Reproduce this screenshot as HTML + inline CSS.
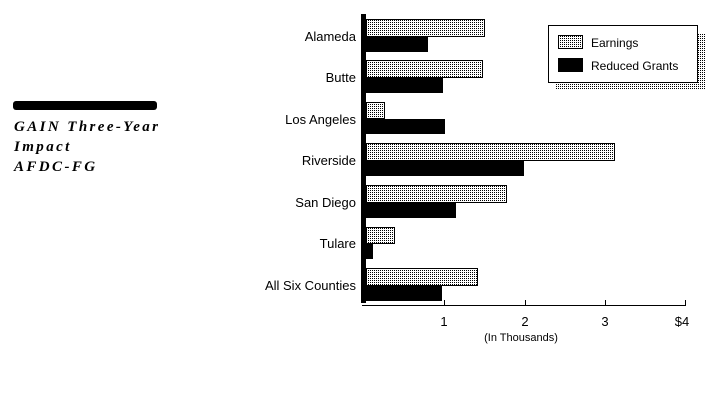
<!DOCTYPE html>
<html><head><style>
html,body{margin:0;padding:0;background:#fff;width:716px;height:412px;overflow:hidden}
</style></head><body>
<svg width="716" height="412" xmlns="http://www.w3.org/2000/svg" style="display:block">
<defs>
<pattern id="dots" width="2" height="2" patternUnits="userSpaceOnUse">
<rect width="2" height="2" fill="#fff"/><rect width="1" height="1" fill="#000"/>
</pattern>
</defs>
<rect x="13" y="101" width="144" height="9" rx="3" fill="#000"/>
<g font-family="Liberation Serif, serif" font-weight="bold" font-style="italic" font-size="15" letter-spacing="2.4" fill="#000">
<text x="14" y="131">GAIN Three-Year</text>
<text x="14" y="151">Impact</text>
<text x="14" y="171">AFDC-FG</text>
</g>
<g font-family="Liberation Sans, sans-serif" font-size="13" fill="#000" text-anchor="end">
<text x="356" y="41">Alameda</text>
<text x="356" y="82">Butte</text>
<text x="356" y="124">Los Angeles</text>
<text x="356" y="165">Riverside</text>
<text x="356" y="207">San Diego</text>
<text x="356" y="248">Tulare</text>
<text x="356" y="290">All Six Counties</text>
</g>
<g stroke="#000" stroke-width="1">
<rect x="366.5" y="19.5" width="118" height="17" fill="url(#dots)"/>
<rect x="366.5" y="60.5" width="116" height="17" fill="url(#dots)"/>
<rect x="366.5" y="102.5" width="18" height="16" fill="url(#dots)"/>
<rect x="366.5" y="143.5" width="248" height="17" fill="url(#dots)"/>
<rect x="366.5" y="185.5" width="140" height="17" fill="url(#dots)"/>
<rect x="366.5" y="227.5" width="28" height="16" fill="url(#dots)"/>
<rect x="366.5" y="268.5" width="111" height="17" fill="url(#dots)"/>
</g>
<g fill="#000">
<rect x="366" y="37" width="62" height="15"/>
<rect x="366" y="78" width="77" height="15"/>
<rect x="366" y="119" width="79" height="15"/>
<rect x="366" y="161" width="158" height="15"/>
<rect x="366" y="203" width="90" height="15"/>
<rect x="366" y="244" width="7" height="15"/>
<rect x="366" y="286" width="76" height="15"/>
<rect x="361" y="14" width="5" height="289"/>
</g>
<line x1="362" y1="305.5" x2="686" y2="305.5" stroke="#000"/>
<g stroke="#000">
<line x1="444.5" y1="300" x2="444.5" y2="306"/>
<line x1="525.5" y1="300" x2="525.5" y2="306"/>
<line x1="605.5" y1="300" x2="605.5" y2="306"/>
<line x1="685.5" y1="300" x2="685.5" y2="306"/>
</g>
<g font-family="Liberation Sans, sans-serif" font-size="13" fill="#000" text-anchor="middle">
<text x="444" y="326">1</text>
<text x="525" y="326">2</text>
<text x="605" y="326">3</text>
<text x="682" y="326">$4</text>
<text x="521" y="341" font-size="11">(In Thousands)</text>
</g>
<rect x="556" y="33" width="150" height="57" fill="url(#dots)"/>
<rect x="548.5" y="25.5" width="149" height="57" fill="#fff" stroke="#000"/>
<rect x="558.5" y="35.5" width="24" height="13" fill="url(#dots)" stroke="#000"/>
<rect x="558" y="58" width="25" height="14" fill="#000"/>
<g font-family="Liberation Sans, sans-serif" font-size="12" fill="#000">
<text x="591" y="47">Earnings</text>
<text x="591" y="70">Reduced Grants</text>
</g>
</svg>
</body></html>
